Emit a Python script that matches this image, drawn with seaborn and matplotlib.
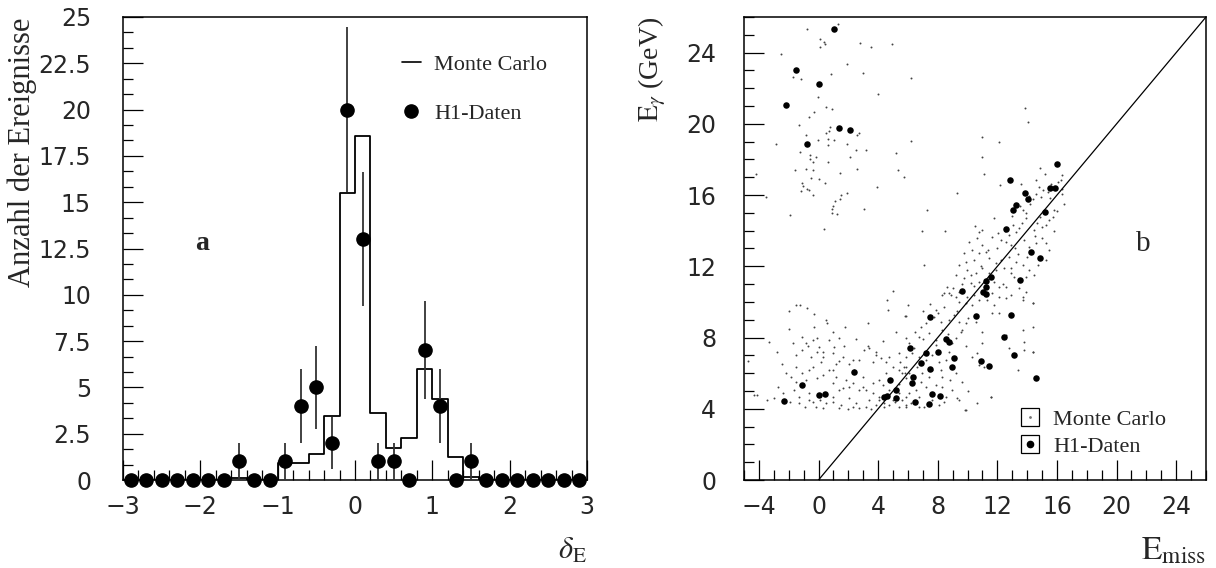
import matplotlib
matplotlib.use("Agg")
import numpy as np
import pandas as pd
import matplotlib.pyplot as plt
import seaborn as sns
from matplotlib.ticker import MultipleLocator, FixedLocator
from matplotlib.lines import Line2D

# ---------------- data: panel a ----------------
delta_bins = [-2.9, -2.7, -2.5, -2.3, -2.1, -1.9, -1.7, -1.5, -1.3, -1.1,
              -0.9, -0.7, -0.5, -0.3, -0.1, 0.1, 0.3, 0.5, 0.7, 0.9,
              1.1, 1.3, 1.5, 1.7, 1.9, 2.1, 2.3, 2.5, 2.7, 2.9]
mc_counts = [0, 0, 0, 0, 0, 0, 0, 0.12, 0, 0,
             0.94, 0.94, 1.39, 3.46, 15.5, 18.56, 3.64, 1.71, 2.25, 5.98,
             4.38, 1.22, 0.15, 0, 0, 0, 0, 0, 0, 0]
h1_counts = [0, 0, 0, 0, 0, 0, 0, 1, 0, 0,
             1, 4, 5, 2, 20, 13, 1, 1, 0, 7,
             4, 0, 1, 0, 0, 0, 0, 0, 0, 0]
h1_errors = [0, 0, 0, 0, 0, 0, 0, 1, 0, 0,
             1, 2, 2.24, 1.41, 4.47, 3.61, 1, 1, 0, 2.65,
             2, 0, 1, 0, 0, 0, 0, 0, 0, 0]
a_xticks = [-3, -2, -1, 0, 1, 2, 3]
a_xlabels = ["\u22123", "\u22122", "\u22121", "0", "1", "2", "3"]
a_yticks = [0, 2.5, 5, 7.5, 10, 12.5, 15, 17.5, 20, 22.5, 25]
a_ylabels = ["0", "2.5", "5", "7.5", "10", "12.5", "15", "17.5", "20", "22.5", "25"]

# ---------------- data: panel b ----------------
mc_E = [1.33, -0.79, 0.13, 0.38, 0.45, 0.11, 2.81, 3.55, 4.92, -2.49, 1.89, 0.81, 3.01, 6.18, -1.68, -1.19,
        4.02, -0.04, 0.52, 0.88, -0.30, -0.64, -1.29, 0.76, 0.70, 0.49, -0.87, 2.69, 2.58, -0.06, 0.66, 1.06,
        -2.87, 0.66, 1.89, 6.18, -1.26, -0.58, -0.58, -0.18, 2.52, 3.17, 2.13, 5.21, -0.40, 0.66, -1.61, -0.81,
        -0.40, 2.56, 5.30, -4.22, 1.46, -0.52, 0.05, 0.43, 5.73, -1.11, -1.06, -1.20, -0.74, -0.65, -0.38, 3.93,
        1.89, 1.53, 1.44, -3.50, 1.12, 0.94, 0.88, 0.92, 1.21, 3.04, 7.26, -1.90, 0.36, 6.96, 8.51,
        13.85, 14.05, 10.94, 12.1, 11.0, 7.07, 9.31, 11.11,
        14.88, 15.22, 16.34, 16.27, 16.05, 14.59, 13.6, 12.17, 16.34, 16.32, 16.45, 14.81, 15.04, 15.38, 14.59,
        14.37, 14.10, 13.74, 13.92, 15.56, 15.83, 15.72, 15.49, 15.27, 14.88, 14.66, 14.48, 13.92, 13.65, 13.47,
        13.02, 13.24, 12.8, 11.79, 10.48, 10.78, 11.0, 11.67, 12.01, 12.23, 12.57, 12.91, 13.2, 13.81, 14.14,
        14.59, 14.99, 15.27, 15.49, 10.66, 10.10, 11.0, 10.33, 10.78, 11.22, 9.76, 9.88, 10.44, 11.45, 11.90,
        12.23, 12.8, 13.24, 13.69, 14.14, 14.70, 15.27, 9.43, 9.99, 10.55, 11.0, 11.45, 11.90, 12.46, 12.91,
        13.13, 13.92, 14.48, 9.21, 9.76, 10.21, 10.78, 11.79, 12.12, 12.57, 13.47, 13.92, 8.64, 8.42, 8.87,
        9.43, 9.99, 10.44, 11.67, 12.12, 12.91, 13.69,
        5.84, 8.30, 8.75, 9.20, 9.43, 9.88, 10.33, 10.78, 11.67, 12.12, 13.69, 14.37, 7.86, 7.74, 8.19, 8.75,
        9.09, 9.43, 9.65, 9.88, 6.85, 7.18, 6.74, 7.41, 7.86, 8.30, 9.20, 9.54, 10.99, 10.99, 10.66, 10.78,
        11.11, 11.56, 12.57, 12.79, 13.81, 14.37, 13.36, 14.37, 5.84, 6.06, 6.40, 5.84, 6.29, 5.50, 5.72, 6.06,
        5.61, 6.62, 6.74, 7.18, 7.63, 8.08, 8.53, 8.75, 8.98, 7.63, 6.96, 7.41, 8.30, 7.86, 7.18, 6.51, 6.06,
        5.61, 6.74, 7.63, 8.53, 5.84, 6.74, 8.08, 9.43, 9.88, 10.66, 8.98, 8.30,
        4.58, 4.69, 5.80, -1.23, -0.74, -0.29, 0.49, 0.56, 1.80, -3.32, -1.12, -0.11, 0.68, 1.39, -1.14, -1.68,
        -0.07, 0.27, 1.01, 1.73, 3.30, 3.87, -2.42, -0.52, -0.40, 0.16, 0.72, 1.39, 2.07, 2.74, 3.08, 3.64,
        4.20, 4.76, 5.43, -1.87, -1.53, -0.85, -0.07, 0.27, 0.94, 1.17, 1.84, 2.29, 1.62, 2.96, 3.64, 4.09,
        4.53, 5.43, 5.88, -1.64, -1.30, -0.63, -0.40, -0.18, 0.27, 0.94, 1.50, 2.07, 2.51, 2.74, 3.41, 3.87,
        4.09, 4.98, 5.43, 5.88, -4.11, -4.73, -3.43,
        9.82, 11.6, 13.8, 14.4, 14.4, 13.7, -4.33,
        3.41, 3.86, 4.53, 4.98, 5.77, 4.31, 4.76, 5.43, 5.88, 3.19, 3.64, 4.09, 4.42, 4.76, 5.10,
        -0.85, -0.40, 0.04, 0.94, 1.62, 2.29, -1.53, -1.08, -0.63, 0.94, 1.39, 2.07, 2.74, -1.30, -0.63,
        0.49, 1.39, 2.29, 3.19,
        6.5, 7.0, 7.5, 8.0, 8.4, 9.0, 9.6, 10.2, 10.9, 11.4, 12.0, 12.5, 13.0, 13.5, 14.2, 14.9, 15.6,
        10.4, 11.3, 12.4, 12.9, 13.4, 14.0, 14.5, 15.0, 15.8, 16.0, 9.3, 10.0, 10.6, 11.8, 12.6, 8.7, 9.9,
        10.3, 7.0, 7.9, 8.2, 9.2, 9.6, 10.0, 8.8, 9.3, 6.9, 7.6, 8.4, 6.2, 7.1, 5.4, 5.9, 3.0, 2.4, 1.2,
        0.3, -0.7, -1.5, -2.2, -2.7, -3.0, -2.4, -1.9, 3.5, 4.4, 2.0, 1.0, 0.1, -0.9, 4.3, 2.5, 1.0, -0.3,
        -2.0, -2.8, 3.3, 5.2, 6.0, 5.0, -2.0, -1.5]
mc_Eg = [25.63, 25.30, 24.74, 24.6, 24.5, 24.29, 24.53, 24.31, 24.46, 23.95, 23.37, 22.82, 22.86, 22.58, 22.64, 22.53,
         21.70, 21.50, 20.92, 20.86, 20.67, 20.39, 19.92, 19.83, 19.59, 19.46, 19.36, 19.46, 19.35, 19.12, 19.16, 19.12,
         18.86, 18.80, 18.86, 19.04, 18.41, 18.24, 18.05, 18.16, 18.52, 18.52, 18.15, 18.37, 17.83, 17.83, 17.43, 17.47,
         17.40, 17.47, 17.40, 17.17, 17.26, 16.98, 16.89, 16.67, 17.02, 16.70, 16.51, 16.23, 16.33, 16.31, 16.01, 16.48,
         16.14, 16.03, 15.80, 15.88, 15.67, 15.37, 15.24, 15.00, 14.96, 15.24, 15.17, 14.89, 14.12, 13.97, 14.00,
         20.88, 20.13, 19.25, 19.0, 18.16, 12.08, 16.1, 17.19,
         17.51, 17.17, 17.13, 16.85, 16.76, 16.85, 16.61, 16.57, 16.33, 16.05, 15.5, 16.44, 16.26, 16.17, 16.05,
         15.76, 15.94, 15.17, 14.98, 15.84, 15.17, 14.79, 14.61, 14.33, 14.79, 14.46, 14.04, 14.70, 14.42, 14.14,
         14.33, 13.95, 13.76, 14.7, 14.26, 13.95, 14.04, 13.67, 13.86, 13.48, 13.39, 13.20, 13.01, 13.48, 13.11,
         13.30, 13.58, 13.30, 12.92, 13.58, 13.39, 13.20, 12.92, 12.73, 12.83, 12.73, 12.26, 12.36, 12.45, 12.17,
         12.36, 12.55, 12.26, 12.08, 11.8, 12.08, 12.36, 12.08, 11.8, 11.61, 11.89, 11.61, 11.8, 11.89, 11.61,
         11.42, 11.42, 11.51, 11.51, 11.33, 11.05, 11.14, 11.14, 10.86, 10.86, 10.76, 10.58, 10.86, 10.49, 10.39,
         10.58, 10.30, 10.39, 10.49, 10.30, 10.39, 10.30,
         9.23, 10.39, 10.49, 10.30, 10.02, 9.93, 9.83, 10.11, 9.36, 9.36, 10.11, 9.93, 9.55, 9.18, 8.90, 8.99,
         9.27, 8.90, 8.43, 8.80, 8.61, 8.80, 8.05, 8.24, 7.87, 8.43, 7.96, 8.33, 8.33, 7.68, 7.12, 6.46,
         6.37, 4.68, 8.15, 7.40, 7.77, 7.21, 6.18, 8.61, 7.96, 7.68, 7.40, 6.93, 7.12, 6.65, 6.37, 5.99,
         5.99, 6.37, 6.93, 6.74, 7.02, 6.65, 6.74, 7.21, 7.68, 6.18, 5.99, 5.81, 5.81, 5.34, 5.24, 5.06, 4.87,
         4.49, 4.68, 4.49, 4.68, 4.12, 4.12, 4.21, 4.49, 3.93, 4.31, 5.06, 5.24,
         10.11, 9.55, 9.21, 9.83, 9.64, 9.31, 9.0, 8.8, 8.61, 7.73, 8.05, 7.96, 7.87, 8.0, 7.30, 7.68,
         7.21, 7.17, 7.45, 7.53, 7.53, 7.21, 6.52, 6.93, 6.37, 6.65, 6.18, 6.69, 6.52, 6.74, 7.30, 6.65,
         6.84, 6.93, 7.12, 5.77, 5.53, 5.62, 5.71, 5.90, 6.18, 5.81, 5.62, 5.43, 5.15, 5.24, 5.43, 5.62,
         5.99, 6.18, 6.37, 5.06, 4.68, 4.87, 4.40, 4.12, 4.03, 4.68, 4.21, 4.59, 4.31, 4.03, 4.49, 4.21,
         4.68, 4.49, 4.12, 4.21, 4.77, 6.70, 4.49,
         3.93, 4.68, 7.3, 9.93, 7.21, 8.43, 4.78,
         7.40, 7.02, 6.65, 6.37, 5.99, 5.34, 5.06, 4.87, 4.68, 5.06, 4.87, 4.49, 4.31, 4.21, 4.40,
         7.68, 7.87, 7.49, 7.12, 6.93, 6.74, 6.37, 5.99, 6.18, 5.43, 5.06, 5.24, 5.06, 4.31, 4.49,
         4.31, 4.03, 4.12, 4.12,
         8.3, 9.5, 9.9, 9.4, 9.7, 10.8, 11.0, 11.5, 12.0, 12.9, 13.0, 14.0, 14.8, 15.4, 15.5, 15.9, 16.6,
         10.9, 10.1, 11.0, 11.9, 12.7, 12.5, 13.7, 14.2, 14.0, 15.1, 9.5, 9.1, 8.9, 9.8, 10.2, 8.2, 7.5,
         6.9, 7.9, 7.6, 6.2, 6.0, 5.5, 5.0, 5.6, 4.6, 5.5, 4.9, 4.4, 4.3, 4.1, 5.4, 5.7, 5.8, 6.2, 6.5,
         6.9, 7.5, 7.0, 6.0, 5.2, 4.6, 4.9, 4.4, 4.0, 4.1, 4.0, 4.4, 4.5, 4.1, 7.8, 7.9, 8.3, 8.6,
         8.5, 7.2, 8.8, 8.3, 9.8, 10.6, 9.5, 9.8]

h1_E = [1.03, -1.53, 0.02, -2.20, 1.39, 2.13, -0.76,
        16.0, 12.86, 15.56, 15.87, 13.85, 14.05, 13.27, 13.08, 15.22, 12.61, 14.29, 14.86, 11.56, 11.27, 11.27,
        13.52, 9.63, 11.04, 11.27,
        7.46, 10.57, 12.91, 8.55, 8.77, 12.43, 6.13, 7.18, 8.01, 13.15, 9.11, 6.89, 10.89, 11.43, 8.98, 7.50,
        6.33, 6.28, 14.57, 7.63, 8.15, 6.45, 7.39,
        2.40, 4.80, -1.08, 5.19, 0.0, 0.43, 4.58, 4.40, 5.19, -2.29]
h1_Eg = [25.35, 23.02, 22.21, 21.05, 19.78, 19.66, 18.88,
         17.74, 16.87, 16.42, 16.39, 16.12, 15.79, 15.43, 15.15, 15.04, 14.10, 12.83, 12.49, 11.39, 11.18, 10.86,
         11.24, 10.62, 10.58, 10.45,
         9.14, 9.21, 9.25, 7.92, 7.77, 8.02, 7.42, 7.15, 7.19, 7.02, 6.87, 6.59, 6.69, 6.40, 6.33, 6.22,
         5.79, 5.43, 5.75, 4.83, 4.70, 4.40, 4.29,
         6.09, 5.64, 5.32, 5.06, 4.79, 4.85, 4.72, 4.65, 4.62, 4.44]
diag_E = [0, 26]
diag_Eg = [0, 26]
b_xticks = [-4, 0, 4, 8, 12, 16, 20, 24]
b_xlabels = ["\u22124", "0", "4", "8", "12", "16", "20", "24"]
b_yticks = [0, 4, 8, 12, 16, 20, 24]
b_ylabels = ["0", "4", "8", "12", "16", "20", "24"]

# ---------------- style ----------------
sns.set_style("ticks")
plt.rcParams["font.family"] = ["DejaVu Sans"]
plt.rcParams["mathtext.fontset"] = "stix"
plt.rcParams["axes.linewidth"] = 1.1
plt.rcParams["axes.edgecolor"] = "black"

W, H = 1216, 568
fig = plt.figure(figsize=(W / 100, H / 100), dpi=100)
fig.patch.set_facecolor("white")


def rect(l, t, r, b):
    return [l / W, 1 - b / H, (r - l) / W, (b - t) / H]


SERIF = ["Liberation Serif", "DejaVu Serif"]
TICKFS = 17

# ---------------- panel a ----------------
axL = fig.add_axes(rect(123, 17, 587, 480))
df_a = pd.DataFrame({"delta": delta_bins, "mc": mc_counts})
sns.histplot(data=df_a, x="delta", weights="mc", bins=30, binrange=(-3, 3),
             element="step", fill=False, color="black", linewidth=1.3, ax=axL)
axL.errorbar(delta_bins, h1_counts, yerr=h1_errors, fmt="o", color="black",
             ms=9.5, elinewidth=1.3, ecolor="#333333", capsize=0, clip_on=False, zorder=5)
axL.set_xlim(-3, 3)
axL.set_ylim(0, 25)
axL.set_xlabel("")
axL.set_ylabel("")
axL.xaxis.set_major_locator(FixedLocator(a_xticks))
axL.set_xticklabels(a_xlabels)
axL.xaxis.set_minor_locator(MultipleLocator(0.2))
axL.yaxis.set_major_locator(FixedLocator(a_yticks))
axL.set_yticklabels(a_ylabels)
axL.yaxis.set_minor_locator(MultipleLocator(2.5 / 3))

# ---------------- panel b ----------------
axR = fig.add_axes(rect(744, 17, 1206, 480))
df_mc = pd.DataFrame({"E": mc_E, "Eg": mc_Eg})
df_h1 = pd.DataFrame({"E": h1_E, "Eg": h1_Eg})
sns.scatterplot(data=df_mc, x="E", y="Eg", s=2.0, color="#444444", marker="o", linewidth=0,
                ax=axR, legend=False)
sns.scatterplot(data=df_h1, x="E", y="Eg", s=22, color="black", linewidth=0, ax=axR,
                legend=False, zorder=4)
sns.lineplot(x=diag_E, y=diag_Eg, color="black", linewidth=0.9, ax=axR, legend=False)
axR.set_xlim(-5, 26)
axR.set_ylim(0, 26)
axR.set_xlabel("")
axR.set_ylabel("")
axR.xaxis.set_major_locator(FixedLocator(b_xticks))
axR.set_xticklabels(b_xlabels)
axR.xaxis.set_minor_locator(MultipleLocator(1))
axR.yaxis.set_major_locator(FixedLocator(b_yticks))
axR.set_yticklabels(b_ylabels)
axR.yaxis.set_minor_locator(MultipleLocator(1))

for ax, ypad in ((axL, 23), (axR, 20)):
    for s in ax.spines.values():
        s.set_visible(True)
        s.set_linewidth(1.1)
    ax.tick_params(which="major", direction="in", length=14.5, width=0.9,
                   top=False, right=False, labelsize=TICKFS, color="black")
    ax.tick_params(which="minor", direction="in", length=7.2, width=0.9,
                   top=False, right=False, color="black")
    ax.tick_params(axis="y", which="major", pad=ypad)
    ax.tick_params(axis="x", which="major", pad=11)
    ax.set_facecolor("white")
    ax.grid(False)

# legends
legL = axL.legend(handles=[Line2D([], [], color="black", lw=1.2),
                           Line2D([], [], color="black", marker="o", ms=9.5, lw=0)],
                  labels=["Monte Carlo", "H1-Daten"], loc="upper left",
                  bbox_to_anchor=(402 / W, 1 - 54 / H), bbox_transform=fig.transFigure,
                  frameon=False, borderpad=0, borderaxespad=0, handlelength=0.85,
                  handletextpad=0.6, labelspacing=1.3, prop={"family": SERIF, "size": 16})

box = dict(marker="s", ms=13.5, mfc="white", mec="black", mew=0.9, lw=0)
legR = axR.legend(handles=[(Line2D([], [], **box), Line2D([], [], marker="o", ms=1, color="#777777", lw=0)),
                           (Line2D([], [], **box), Line2D([], [], marker="o", ms=4.5, color="black", lw=0))],
                  labels=["Monte Carlo", "H1-Daten"], loc="upper left",
                  bbox_to_anchor=(1019 / W, 1 - 409 / H), bbox_transform=fig.transFigure,
                  frameon=False, borderpad=0, borderaxespad=0, handlelength=1.0,
                  handletextpad=0.55, labelspacing=0.3, prop={"family": SERIF, "size": 16})

# panel letters
axL.text(0.17, 0.51, "a", transform=axL.transAxes, fontsize=20, family=SERIF,
         fontweight="bold", ha="center", va="center")
axR.text(0.865, 0.51, "b", transform=axR.transAxes, fontsize=21, family=SERIF,
         ha="center", va="center")

# axis titles (ROOT style placement)
fig.text(22 / W, 1 - 18 / H, "Anzahl der Ereignisse", rotation=90, ha="center", va="top",
         fontsize=22, family=SERIF)
fig.text(587 / W, 1 - 565 / H, r"$\delta_{\mathrm{E}}$", ha="right", va="bottom", fontsize=22)
fig.text(652 / W, 1 - 17 / H, r"$\mathrm{E}_{\gamma}$" + " (GeV)", rotation=90, ha="center", va="top",
         fontsize=20, family=SERIF)
fig.text(1206 / W, 1 - 566 / H, r"$\mathrm{E_{miss}}$", ha="right", va="bottom", fontsize=24)

fig.savefig("out.png", dpi=100, facecolor="white")
